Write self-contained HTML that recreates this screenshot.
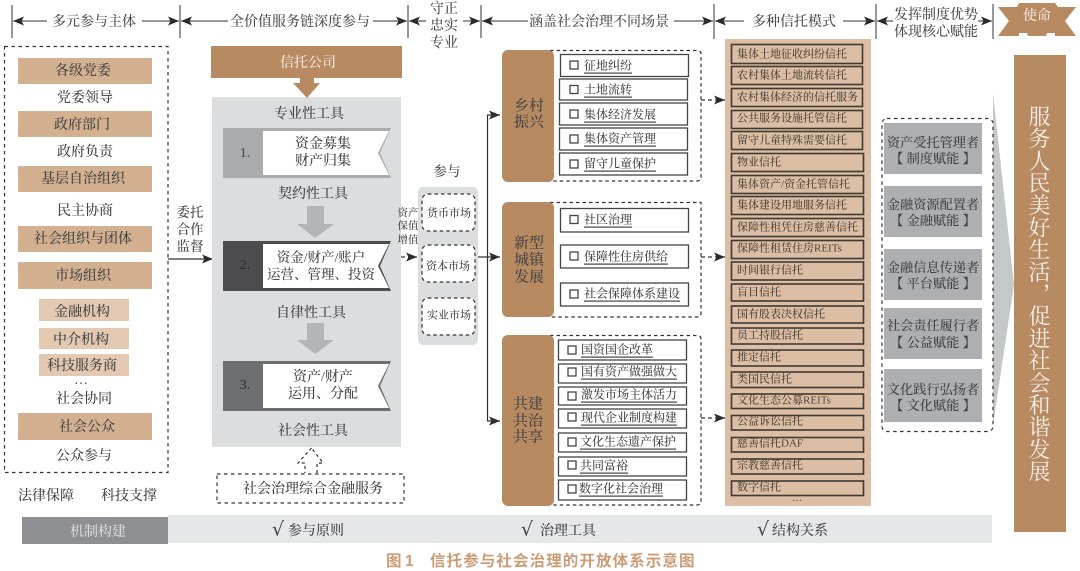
<!DOCTYPE html>
<html lang="zh-CN"><head><meta charset="utf-8"><title>信托参与社会治理的开放体系示意图</title>
<style>
html,body{margin:0;padding:0;background:#fff;width:1080px;height:571px;overflow:hidden}
svg{display:block;position:absolute;left:0;top:0;font-family:"Liberation Serif","Noto Serif CJK SC",serif}
text{fill:#444446;text-anchor:middle;dominant-baseline:central;font-weight:500;transform:translateY(2.5px)}
.s{text-anchor:start}
.l{font-size:12px;text-decoration:underline;text-anchor:start}
.t{font-size:11px;text-anchor:start;fill:#4d4339}
.r{font-size:13.2px;fill:#404040}
.h{font-size:14px;fill:#4f4f4f}
#v{position:absolute;left:1012px;top:105px;width:52px;height:390px;white-space:nowrap;writing-mode:vertical-rl;font:22px/52px "Liberation Serif","Noto Serif CJK SC",serif;letter-spacing:.2px;color:#f6efe8;text-align:start}
</style></head><body>
<svg width="1080" height="571" viewBox="0 0 1080 571">
<defs><marker id="a" markerUnits="userSpaceOnUse" markerWidth="12" markerHeight="10" refX="11" refY="5" orient="auto-start-reverse"><path d="M0,.5 L11,5 L0,9.5 L2.500,5z" fill="#2b2b2b"/></marker></defs>

<!-- header -->
<g stroke="#555" stroke-width="1.2"><path d="M12 5V38M180 5V38M408 5V38M481 5V38M714 4V39M876 4V39M993 4V39" fill="none"/></g>
<g stroke="#333" stroke-width="1" fill="none">
<path d="M47 21H13" marker-end="url(#a)"/><path d="M142 21H179" marker-end="url(#a)"/>
<path d="M228 21H181" marker-end="url(#a)"/><path d="M373 21H407" marker-end="url(#a)"/>
<path d="M426 21H409" marker-end="url(#a)"/><path d="M463 21H480" marker-end="url(#a)"/>
<path d="M528 21H482" marker-end="url(#a)"/><path d="M674 21H713" marker-end="url(#a)"/>
<path d="M744 21H715" marker-end="url(#a)"/><path d="M843 21H875" marker-end="url(#a)"/>
<path d="M893 21H877" marker-end="url(#a)"/><path d="M978 21H992" marker-end="url(#a)"/>
</g>
<text class="h" x="94" y="20">多元参与主体</text>
<text class="h" x="300" y="20">全价值服务链深度参与</text>
<text class="h" x="444" y="7">守正</text><text class="h" x="444" y="24">忠实</text><text class="h" x="444" y="41">专业</text>
<text class="h" x="599" y="20">涵盖社会治理不同场景</text>
<text class="h" x="794" y="20">多种信托模式</text>
<text class="h" x="936" y="13">发挥制度优势</text><text class="h" x="936" y="30">体现核心赋能</text>
<polygon points="998,7 1017,7 1019,3 1055,3 1058,7 1076,7 1065,21 1076,36 1055,36 1055,33 1047,33 1046,36 1028,36 1027,33 1019,33 1019,36 998,36 1009,21" fill="#b88a62"/>
<text x="1037" y="14" style="font-size:14px;fill:#f3e9df">使命</text>

<!-- left -->
<rect x="4.5" y="46.5" width="163.5" height="426" fill="none" stroke="#333" stroke-width="1.2" stroke-dasharray="3.5 3.5"/>
<g fill="#d3b08f">
<rect x="18" y="58" width="134" height="26"/><rect x="18" y="111" width="134" height="26"/><rect x="18" y="166" width="134" height="26"/><rect x="18" y="226" width="134" height="26"/><rect x="18" y="262" width="134" height="27"/><rect x="18" y="413" width="134" height="27"/>
</g>
<g fill="#e3c9b1"><rect x="39" y="299" width="90" height="22"/><rect x="39" y="328" width="90" height="21"/><rect x="39" y="354" width="90" height="22"/></g>
<g style="font-size:14px">
<text x="83" y="69">各级党委</text><text x="85" y="96">党委领导</text><text x="82" y="123">政府部门</text><text x="85" y="150">政府负责</text><text x="83" y="177">基层自治组织</text><text x="85" y="209">民主协商</text><text x="83" y="237">社会组织与团体</text><text x="83" y="274">市场组织</text><text x="82" y="310">金融机构</text><text x="81" y="338">中介机构</text><text x="82" y="364">科技服务商</text><text x="81" y="378">…</text><text x="84" y="397">社会协同</text><text x="87" y="425">社会公众</text><text x="84" y="454">公众参与</text><text x="46" y="494">法律保障</text><text x="129" y="494">科技支撑</text>
</g>
<g style="font-size:13.5px"><text x="190" y="210">委托</text><text x="190" y="227">合作</text><text x="190" y="244">监督</text></g>
<path d="M168 259H213" stroke="#333" stroke-width="1.2" fill="none" marker-end="url(#a)"/>

<!-- trust column -->
<rect x="211" y="46" width="191" height="32" fill="#b88a62"/>
<text x="308" y="61" style="font-size:14px;fill:#f3e9df">信托公司</text>
<rect x="212" y="97" width="189" height="350" fill="#dcdddf"/>
<polygon points="300,78 314,78 314,83 320,83 307,98 293,83 300,83" fill="#b88a62"/>
<g style="font-size:14px"><text x="309" y="112">专业性工具</text><text x="313" y="192">契约性工具</text><text x="311" y="311">自律性工具</text><text x="313" y="429">社会性工具</text></g>
<polygon points="223,128 391,128 380,153 391,178 223,178" fill="#a9abae"/>
<polygon points="263,131 389,131 378,153 389,175 263,175" fill="#fff"/>
<polygon points="223,241 391,241 380,266 391,291 223,291" fill="#4d4d4f"/>
<polygon points="263,244 389,244 378,266 389,288 263,288" fill="#fff"/>
<polygon points="223,361 391,361 380,386 391,411 223,411" fill="#6d6e71"/>
<polygon points="263,364 389,364 378,386 389,408 263,408" fill="#fff"/>
<g fill="#b3b5b7"><polygon points="307,206 324,206 324,224 334,224 315,238 297,224 307,224"/><polygon points="307,323 324,323 324,340 334,340 315,354 297,340 307,340"/></g>
<g style="font-size:14px"><text x="245" y="151">1.</text><text x="245" y="263" style="fill:#2c2c2c">2.</text><text x="245" y="383" style="fill:#2c2c2c">3.</text>
<text x="323" y="142">资金募集</text><text x="323" y="159">财产归集</text><text x="321" y="255" style="font-size:13.5px">资金/财产/账户</text><text x="321" y="272" style="font-size:13.5px">运营、管理、投资</text><text x="323" y="375">资产/财产</text><text x="323" y="392">运用、分配</text></g>
<path d="M311.500 448L298 463H305V473M317 473V463H323L311.500 448" fill="none" stroke="#333" stroke-width="1.2" stroke-dasharray="3 3"/>
<rect x="217" y="474" width="187" height="29" fill="none" stroke="#333" stroke-width="1.2" stroke-dasharray="3.5 3.5"/>
<text x="313" y="487" style="font-size:14px">社会治理综合金融服务</text>

<!-- market -->
<g style="font-size:10.5px"><text x="408" y="211">资产</text><text x="408" y="224">保值</text><text x="408" y="238">增值</text></g>
<path d="M401 257H417" stroke="#333" stroke-width="1.2" stroke-dasharray="4 3" fill="none" marker-end="url(#a)"/>
<text x="447" y="169" style="font-size:13.5px">参与</text>
<rect x="418" y="187" width="60" height="158" rx="5" fill="#dcdddf"/>
<g fill="#fff" stroke="#333" stroke-width="1.2" stroke-dasharray="3.5 3">
<rect x="422" y="194" width="53" height="37" rx="6"/><rect x="422" y="245" width="53" height="37" rx="6"/><rect x="422" y="298" width="53" height="37" rx="6"/></g>
<g style="font-size:11px"><text x="449" y="211">货币市场</text><text x="448" y="264">资本市场</text><text x="449" y="313">实业市场</text></g>
<path d="M478 257H500" stroke="#333" stroke-width="1.2" fill="none" marker-end="url(#a)"/>
<path d="M500 115H487.500V421H500" stroke="#333" stroke-width="1.2" fill="none" marker-start="url(#a)" marker-end="url(#a)"/>

<!-- scenes -->
<g fill="none" stroke="#333" stroke-width="1.2" stroke-dasharray="3.5 3">
<path d="M550 50.500H697Q701 50.500 701 54V177Q701 181 697 181H550"/>
<path d="M550 202.500H701V313Q701 317 697 317H550"/>
<path d="M550 335.500H697Q701 335.500 701 339V501Q701 505 697 505H550"/></g>
<g fill="#b88a62"><rect x="502" y="50" width="52" height="132" rx="6"/><rect x="502" y="202" width="52" height="115" rx="6"/><rect x="502" y="335" width="52" height="171" rx="6"/></g>
<g style="font-size:15px;fill:#3f3a35"><text x="529" y="104">乡村</text><text x="529" y="120">振兴</text><text x="529" y="241">新型</text><text x="529" y="258">城镇</text><text x="529" y="275">发展</text><text x="528" y="402">共建</text><text x="528" y="419">共治</text><text x="528" y="435">共享</text></g>
<g fill="#fff" stroke="#444" stroke-width="1.3">
<rect x="560.500" y="54.500" width="128" height="22"/><rect x="559.500" y="79" width="128" height="21"/><rect x="559.500" y="103" width="128" height="22"/><rect x="559.500" y="128" width="128" height="22"/><rect x="559.500" y="153" width="128" height="22"/>
<rect x="560.500" y="208.500" width="128" height="23.500"/><rect x="560.500" y="245" width="128" height="23"/><rect x="560.500" y="283" width="128" height="23"/>
<rect x="558.500" y="340" width="128" height="20"/><rect x="558.500" y="364" width="128" height="19"/><rect x="558.500" y="387" width="128" height="18"/><rect x="558.500" y="409" width="128" height="19"/><rect x="558.500" y="433" width="128" height="19"/><rect x="558.500" y="457" width="128" height="19"/><rect x="558.500" y="480" width="128" height="20"/>
<rect x="570" y="61" width="8" height="8"/><rect x="570" y="85.500" width="8" height="8"/><rect x="570" y="110" width="8" height="8"/><rect x="570" y="135" width="8" height="8"/><rect x="570" y="160" width="8" height="8"/>
<rect x="570" y="215.500" width="8" height="8"/><rect x="570" y="252" width="8" height="8"/><rect x="570" y="290" width="8" height="8"/>
<rect x="568" y="346" width="8" height="8"/><rect x="568" y="368" width="8" height="8"/><rect x="568" y="392" width="8" height="8"/><rect x="568" y="413" width="8" height="8"/><rect x="568" y="438" width="8" height="8"/><rect x="568" y="461" width="8" height="8"/><rect x="568" y="485" width="8" height="8"/>
</g>
<g>
<text class="l" x="584" y="63">征地纠纷</text><text class="l" x="584" y="87">土地流转</text><text class="l" x="584" y="112">集体经济发展</text><text class="l" x="584" y="136">集体资产管理</text><text class="l" x="584" y="161">留守儿童保护</text>
<text class="l" x="584" y="217">社区治理</text><text class="l" x="584" y="254">保障性住房供给</text><text class="l" x="584" y="291">社会保障体系建设</text>
<text class="l" x="581" y="347">国资国企改革</text><text class="l" x="581" y="369">国有资产做强做大</text><text class="l" x="581" y="392">激发市场主体活力</text><text class="l" x="581" y="415">现代企业制度构建</text><text class="l" x="580" y="439">文化生态遗产保护</text><text class="l" x="580" y="463">共同富裕</text><text class="l" x="579" y="486">数字化社会治理</text>
</g>
<g stroke="#333" stroke-width="1.2" stroke-dasharray="4 3" fill="none"><path d="M701 100H725" marker-end="url(#a)"/><path d="M701 257H725" marker-end="url(#a)"/><path d="M701 418H725" marker-end="url(#a)"/></g>

<!-- trust modes -->
<rect x="725" y="39" width="146" height="467" fill="#dcbea4"/>
<g fill="none" stroke="#3e3a36" stroke-width="1.6">
<rect x="731.500" y="44.500" width="131" height="19"/><rect x="731.500" y="66.500" width="131" height="18"/><rect x="731.500" y="88.500" width="131" height="18"/><rect x="731.500" y="110.500" width="131" height="18"/><rect x="731.500" y="131.500" width="131" height="18"/><rect x="731.500" y="153.500" width="132" height="18"/><rect x="731.500" y="175.500" width="132" height="18"/><rect x="731.500" y="196.500" width="132" height="18"/><rect x="731.500" y="218.500" width="132" height="18"/><rect x="731.500" y="240.500" width="132" height="18"/><rect x="731.500" y="262" width="132" height="18"/><rect x="731.500" y="284" width="132" height="17"/><rect x="731.500" y="306" width="132" height="17"/><rect x="731.500" y="328" width="132" height="16"/><rect x="731.500" y="350" width="132" height="16"/><rect x="731.500" y="372" width="132" height="15.500"/><rect x="731.500" y="394" width="132" height="14.500"/><rect x="731.500" y="415.500" width="132" height="14.500"/><rect x="731.500" y="437.500" width="132" height="14.500"/><rect x="731.500" y="459" width="132" height="15"/><rect x="731.500" y="481" width="132" height="14.500"/>
</g>
<g>
<text class="t" x="737" y="52">集体土地征收纠纷信托</text><text class="t" x="737" y="73">农村集体土地流转信托</text><text class="t" x="737" y="95">农村集体经济的信托服务</text><text class="t" x="737" y="116">公共服务设施托管信托</text><text class="t" x="737" y="138">留守儿童特殊需要信托</text><text class="t" x="737" y="160">物业信托</text><text class="t" x="737" y="182">集体资产/资金托管信托</text><text class="t" x="737" y="203">集体建设用地服务信托</text><text class="t" x="737" y="225">保障性租凭住房慈善信托</text><text class="t" x="737" y="246">保障性租赁住房REITs</text><text class="t" x="737" y="268">时间银行信托</text><text class="t" x="737" y="290">盲目信托</text><text class="t" x="737" y="312">国有股表决权信托</text><text class="t" x="737" y="333">员工持股信托</text><text class="t" x="737" y="355">推定信托</text><text class="t" x="737" y="377">类国民信托</text><text class="t" x="737" y="398">文化生态公募REITs</text><text class="t" x="737" y="419">公益诉讼信托</text><text class="t" x="737" y="441">慈善信托DAF</text><text class="t" x="737" y="463">宗教慈善信托</text><text class="t" x="737" y="485">数字信托</text><text x="797" y="496" style="font-size:10px">…</text>
</g>

<!-- wedge + roles -->
<polygon points="993,93 1014,285 993,425" fill="#c5c7c9"/>
<rect x="882" y="118.500" width="111" height="313" rx="5" fill="#fff" stroke="#333" stroke-width="1.2" stroke-dasharray="3.5 3.5"/>
<g fill="#adafb3"><rect x="884" y="123" width="98" height="51"/><rect x="884" y="186" width="98" height="51"/><rect x="884" y="249" width="98" height="51"/><rect x="884" y="308" width="98" height="51"/><rect x="884" y="369" width="98" height="53"/></g>
<g>
<text class="r" x="933" y="140">资产受托管理者</text><text class="r" x="933" y="156" xml:space="preserve">【 制度赋能 】</text>
<text class="r" x="933" y="202">金融资源配置者</text><text class="r" x="933" y="218" xml:space="preserve">【 金融赋能 】</text>
<text class="r" x="933" y="265">金融信息传递者</text><text class="r" x="933" y="281" xml:space="preserve">【 平台赋能 】</text>
<text class="r" x="933" y="323">社会责任履行者</text><text class="r" x="933" y="340" xml:space="preserve">【 公益赋能 】</text>
<text class="r" x="933" y="387">文化践行弘扬者</text><text class="r" x="933" y="403" xml:space="preserve">【 文化赋能 】</text>
</g>
<rect x="1014" y="55" width="52" height="477" fill="#b88a62"/>

<!-- bottom -->
<rect x="168" y="515" width="824" height="28" fill="#e6e7e9"/>
<rect x="22" y="517" width="146" height="27" fill="#8e8f93"/>
<text x="98" y="530" style="font-size:14px;fill:#dcdcdc">机制构建</text>
<g style="font-size:14px;fill:#555">
<text x="278" y="527" style="font-size:19px;font-family:'DejaVu Sans',sans-serif">√</text><text x="316" y="529">参与原则</text>
<text x="527" y="527" style="font-size:19px;font-family:'DejaVu Sans',sans-serif">√</text><text x="568" y="529">治理工具</text>
<text x="763" y="527" style="font-size:19px;font-family:'DejaVu Sans',sans-serif">√</text><text x="800" y="529">结构关系</text>
</g>
<g style="font-family:'Liberation Sans','Noto Sans CJK SC',sans-serif;font-size:15.500px">
<text class="s" x="386" y="559" style="fill:#cc9c75;font-weight:700">图</text><text class="s" x="405" y="559" style="fill:#cc9c75;font-weight:700">1</text>
<text class="s" x="430" y="559" style="fill:#cc9c75;letter-spacing:1.1px;font-weight:700">信托参与社会治理的开放体系示意图</text>
</g>
</svg>
<div id="v">服务人民美好生活，促进社会和谐发展</div>
</body></html>
